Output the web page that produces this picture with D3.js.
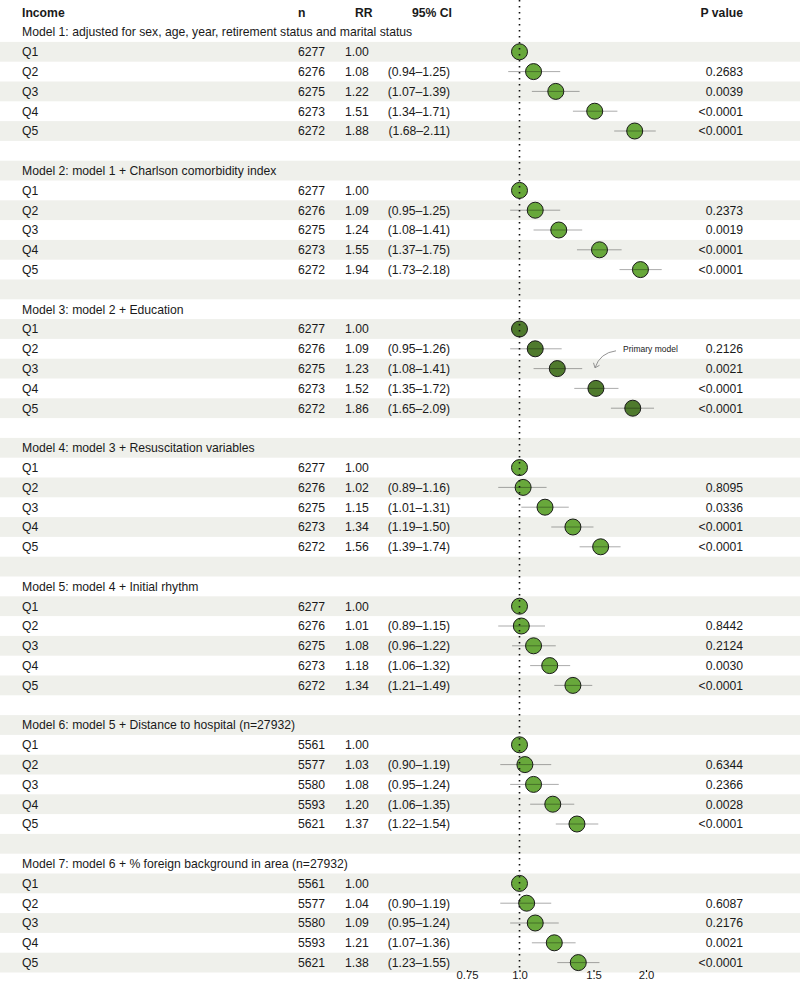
<!DOCTYPE html>
<html><head><meta charset="utf-8">
<script src="https://cdn.jsdelivr.net/npm/d3@7/dist/d3.min.js"></script>
<style>body{margin:0;background:#fff}svg{display:block}text{font-family:"Liberation Sans",Arial,Helvetica,sans-serif;fill:#1a1a1a}</style>
</head><body><svg id="c" width="800" height="984"></svg>
<script>
const headers = ["Income", "n", "RR", "95% CI", "P value"];
const quintiles = ["Q1", "Q2", "Q3", "Q4", "Q5"];
const modelTitles = [
  "Model 1: adjusted for sex, age, year, retirement status and marital status",
  "Model 2: model 1 + Charlson comorbidity index",
  "Model 3: model 2 + Education",
  "Model 4: model 3 + Resuscitation variables",
  "Model 5: model 4 + Initial rhythm",
  "Model 6: model 5 + Distance to hospital (n=27932)",
  "Model 7: model 6 + % foreign background in area (n=27932)"
];
const nValues = [
  [6277, 6276, 6275, 6273, 6272],
  [6277, 6276, 6275, 6273, 6272],
  [6277, 6276, 6275, 6273, 6272],
  [6277, 6276, 6275, 6273, 6272],
  [6277, 6276, 6275, 6273, 6272],
  [5561, 5577, 5580, 5593, 5621],
  [5561, 5577, 5580, 5593, 5621]
];
const rrValues = [
  [1.00, 1.08, 1.22, 1.51, 1.88],
  [1.00, 1.09, 1.24, 1.55, 1.94],
  [1.00, 1.09, 1.23, 1.52, 1.86],
  [1.00, 1.02, 1.15, 1.34, 1.56],
  [1.00, 1.01, 1.08, 1.18, 1.34],
  [1.00, 1.03, 1.08, 1.20, 1.37],
  [1.00, 1.04, 1.09, 1.21, 1.38]
];
const ciLow = [
  [null, 0.94, 1.07, 1.34, 1.68],
  [null, 0.95, 1.08, 1.37, 1.73],
  [null, 0.95, 1.08, 1.35, 1.65],
  [null, 0.89, 1.01, 1.19, 1.39],
  [null, 0.89, 0.96, 1.06, 1.21],
  [null, 0.90, 0.95, 1.06, 1.22],
  [null, 0.90, 0.95, 1.07, 1.23]
];
const ciHigh = [
  [null, 1.25, 1.39, 1.71, 2.11],
  [null, 1.25, 1.41, 1.75, 2.18],
  [null, 1.26, 1.41, 1.72, 2.09],
  [null, 1.16, 1.31, 1.50, 1.74],
  [null, 1.15, 1.22, 1.32, 1.49],
  [null, 1.19, 1.24, 1.35, 1.54],
  [null, 1.19, 1.24, 1.36, 1.55]
];
const pValues = [
  ["", "0.2683", "0.0039", "<0.0001", "<0.0001"],
  ["", "0.2373", "0.0019", "<0.0001", "<0.0001"],
  ["", "0.2126", "0.0021", "<0.0001", "<0.0001"],
  ["", "0.8095", "0.0336", "<0.0001", "<0.0001"],
  ["", "0.8442", "0.2124", "0.0030", "<0.0001"],
  ["", "0.6344", "0.2366", "0.0028", "<0.0001"],
  ["", "0.6087", "0.2176", "0.0021", "<0.0001"]
];
const primaryModel = 2; // index of Model 3
const xTicks = [0.75, 1.0, 1.5, 2.0];
const tickLabels = ["0.75", "1.0", "1.5", "2.0"];
const annotation = "Primary model";

// Build rows
const rows = [];
rows.push({type: "header"});
modelTitles.forEach((t, m) => {
  rows.push({type: "title", text: t, m});
  quintiles.forEach((q, k) => rows.push({type: "data", q, m, k}));
  if (m < modelTitles.length - 1) rows.push({type: "blank"});
});

const svg = d3.select("#c");
const W = 800;
const rowH = 19.8, y0 = 12.2;
const y = d3.scaleLinear().domain([0, 1]).range([y0, y0 + rowH]);
const x = d3.scaleLog().domain([0.75, 2.0]).range([467, 646]);
const fs = 12.2;

// background bands
svg.append("g").selectAll("rect")
  .data(rows.map((r, i) => ({r, i})).filter(d => d.i > 0 && d.i % 2 === 0))
  .join("rect")
  .attr("x", 0).attr("width", W)
  .attr("y", d => y(d.i) - rowH / 2).attr("height", rowH)
  .attr("fill", "#eff0eb");

// header
const hdr = svg.append("g").attr("font-weight", "bold").attr("font-size", fs);
const hy = y(0) + 4.3;
hdr.append("text").attr("x", 22).attr("y", hy).text(headers[0]);
hdr.append("text").attr("x", 298).attr("y", hy).text(headers[1]);
hdr.append("text").attr("x", 355).attr("y", hy).text(headers[2]);
hdr.append("text").attr("x", 452).attr("y", hy).attr("text-anchor", "end").text(headers[3]);
hdr.append("text").attr("x", 743).attr("y", hy).attr("text-anchor", "end").text(headers[4]);

const tg = svg.append("g").attr("font-size", fs);
rows.forEach((r, i) => {
  const ty = y(i) + 4.3;
  if (r.type === "title") {
    tg.append("text").attr("x", 22).attr("y", ty).text(r.text);
  } else if (r.type === "data") {
    const m = r.m, k = r.k;
    tg.append("text").attr("x", 22).attr("y", ty).text(r.q);
    tg.append("text").attr("x", 298).attr("y", ty).text(nValues[m][k]);
    tg.append("text").attr("x", 345).attr("y", ty).text(rrValues[m][k].toFixed(2));
    if (ciLow[m][k] != null) {
      tg.append("text").attr("x", 450).attr("y", ty).attr("text-anchor", "end")
        .text("(" + ciLow[m][k].toFixed(2) + "\u2013" + ciHigh[m][k].toFixed(2) + ")");
    }
    if (pValues[m][k]) {
      tg.append("text").attr("x", 743).attr("y", ty).attr("text-anchor", "end").text(pValues[m][k]);
    }
  }
});

// points
const dataRows = rows.map((r, i) => ({r, i})).filter(d => d.r.type === "data");
const pg = svg.append("g");
pg.selectAll("circle").data(dataRows).join("circle")
  .attr("cx", d => x(rrValues[d.r.m][d.r.k]))
  .attr("cy", d => y(d.i))
  .attr("r", 8)
  .attr("fill", d => d.r.m === primaryModel ? "#4f7a2d" : "#68a83b")
  .attr("stroke", "#1a1a1a").attr("stroke-width", 1);
pg.selectAll("line").data(dataRows.filter(d => ciLow[d.r.m][d.r.k] != null)).join("line")
  .attr("x1", d => x(ciLow[d.r.m][d.r.k]))
  .attr("x2", d => x(ciHigh[d.r.m][d.r.k]))
  .attr("y1", d => y(d.i)).attr("y2", d => y(d.i))
  .attr("stroke", "#000").attr("stroke-opacity", 0.33).attr("stroke-width", 1);

// reference line at 1
svg.append("line")
  .attr("x1", x(1)).attr("x2", x(1))
  .attr("y1", 0).attr("y2", 969)
  .attr("stroke", "#111").attr("stroke-width", 1.6)
  .attr("stroke-dasharray", "1.6,4.4");

// axis
const ag = svg.append("g").attr("transform", "translate(0,970)");
const axis = d3.axisBottom(x).tickValues(xTicks).tickFormat((d, i) => tickLabels[i]).tickSize(2).tickPadding(0);
ag.call(axis);
ag.select(".domain").remove();
ag.selectAll(".tick line").attr("stroke", "#111").attr("stroke-width", 1.2);
ag.selectAll(".tick text").attr("font-size", 11.3).attr("dy", "0.6em")
  .attr("font-family", '"Liberation Sans",Arial,sans-serif').attr("fill", "#1a1a1a");

// annotation
const prIdx = rows.findIndex(r => r.type === "data" && r.m === primaryModel && r.k === 1);
const ay = y(prIdx);
svg.append("text").attr("x", 623).attr("y", ay + 3).attr("font-size", 8.5).text(annotation);
const ax0 = 616, ay0 = ay + 2, ax1 = 595, ay1 = ay + 19;
svg.append("path")
  .attr("d", `M${ax0},${ay0} Q${ax0 - 16},${ay0 + 2} ${ax1},${ay1}`)
  .attr("fill", "none").attr("stroke", "#888").attr("stroke-width", 0.9);
svg.append("path")
  .attr("d", `M${ax1 - 1.5},${ay1 - 5} L${ax1},${ay1} L${ax1 + 4.5},${ay1 - 2.5}`)
  .attr("fill", "none").attr("stroke", "#888").attr("stroke-width", 0.9);
</script></body></html>
